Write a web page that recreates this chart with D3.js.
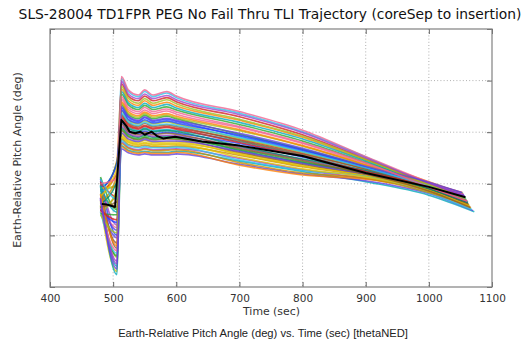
<!DOCTYPE html>
<html>
<head>
<meta charset="utf-8">
<script src="https://cdn.jsdelivr.net/npm/d3@7"></script>
<style>
  body { margin: 0; background: #fff; }
  svg { display: block; }
</style>
</head>
<body>
<svg id="chart" width="523" height="346"></svg>
<script>
// Shared sample times of the dispersed runs (sec); each run also has its own end time.
const knotTimes = [480, 506, 513, 524, 540, 550, 563, 585, 600, 700, 800, 900, 1000];

// Monte Carlo runs: pitch angle (deg) at knotTimes, followed by the value at the run's end time.
const runs = [
  [21.0, 10.0, 31.8, 30.4, 29.7, 30.2, 29.7, 30.0, 29.8, 27.8, 25.2, 22.4, 19.8, 17.7],
  [19.8, 4.0, 27.4, 26.5, 26.1, 26.3, 26.1, 26.1, 26.3, 24.4, 22.4, 20.4, 17.8, 14.6],
  [21.3, 15.0, 35.3, 33.4, 32.6, 33.3, 32.6, 33.1, 32.6, 29.6, 26.7, 23.3, 18.8, 16.0],
  [15.8, 3.0, 29.3, 28.2, 27.7, 28.0, 27.7, 27.8, 27.8, 25.9, 23.6, 21.8, 19.4, 16.9],
  [17.7, 24.6, 38.4, 36.1, 35.2, 36.1, 35.2, 35.8, 35.1, 32.3, 29.0, 24.6, 20.4, 18.1],
  [18.5, 22.0, 33.1, 31.5, 30.8, 31.3, 30.8, 31.1, 30.8, 28.6, 25.9, 22.9, 20.1, 18.3],
  [20.6, 12.0, 28.1, 27.1, 26.6, 26.9, 26.6, 26.7, 26.8, 24.9, 22.7, 21.0, 19.0, 16.2],
  [20.2, 7.5, 30.3, 29.1, 28.5, 28.9, 28.5, 28.7, 28.6, 26.1, 23.8, 21.7, 18.8, 16.0],
  [18.6, 20.0, 40.4, 37.9, 36.9, 37.9, 36.9, 37.6, 36.7, 33.7, 30.1, 25.2, 20.0, 17.5],
  [16.6, 5.8, 34.1, 32.3, 31.6, 32.2, 31.6, 32.0, 31.6, 28.8, 26.1, 22.9, 18.7, 15.8],
  [17.0, 9.5, 26.8, 26.0, 25.6, 25.8, 25.6, 25.6, 25.8, 23.8, 21.9, 20.6, 18.1, 14.8],
  [16.3, 11.5, 36.4, 34.4, 33.6, 34.3, 33.6, 34.1, 33.5, 30.9, 27.8, 23.9, 20.0, 17.5],
  [18.8, 24.2, 30.9, 29.6, 29.0, 29.4, 29.0, 29.2, 29.1, 26.5, 24.1, 22.0, 19.2, 16.6],
  [18.2, 15.5, 28.7, 27.6, 27.2, 27.5, 27.2, 27.2, 27.3, 25.5, 23.3, 21.5, 19.1, 16.7],
  [19.0, 23.8, 34.7, 32.9, 32.1, 32.8, 32.1, 32.5, 32.1, 29.2, 26.4, 23.1, 19.2, 16.4],
  [19.5, 2.4, 32.4, 30.9, 30.3, 30.8, 30.3, 30.5, 30.3, 28.2, 25.5, 22.6, 20.0, 18.1],
  [15.6, 6.0, 37.4, 35.3, 34.4, 35.2, 34.4, 34.9, 34.3, 31.5, 28.3, 24.2, 20.1, 17.9],
  [19.2, 19.5, 29.7, 28.5, 28.0, 28.4, 28.0, 28.1, 28.1, 25.7, 23.4, 21.6, 18.5, 15.2],
  [15.2, 18.0, 27.2, 26.3, 25.9, 26.1, 25.9, 25.9, 26.1, 23.6, 21.7, 20.9, 18.6, 15.4],
  [20.4, 17.5, 39.4, 37.0, 36.1, 37.0, 36.1, 36.7, 35.9, 33.0, 29.5, 24.8, 19.9, 17.3],
  [17.3, 5.0, 31.2, 29.8, 29.2, 29.7, 29.2, 29.4, 29.3, 27.1, 24.7, 22.3, 19.9, 17.9],
  [17.9, 8.5, 33.4, 31.8, 31.1, 31.7, 31.1, 31.4, 31.1, 28.4, 25.7, 22.8, 19.1, 16.2],
  [14.6, 6.5, 28.4, 27.4, 27.0, 27.2, 27.0, 27.0, 27.1, 24.6, 22.6, 21.4, 18.2, 15.0],
  [14.4, 19.0, 35.6, 33.6, 32.9, 33.6, 32.9, 33.3, 32.8, 30.3, 27.3, 23.6, 19.5, 16.9],
  [16.8, 11.0, 29.9, 28.7, 28.2, 28.6, 28.2, 28.3, 28.3, 26.3, 24.0, 21.9, 19.6, 17.5],
  [15.3, 7.0, 40.8, 38.2, 37.2, 38.2, 37.2, 37.9, 37.0, 34.0, 30.4, 25.3, 20.3, 17.9],
  [16.1, 20.5, 32.2, 30.7, 30.1, 30.6, 30.1, 30.3, 30.1, 27.3, 24.8, 22.5, 19.0, 16.4],
  [16.4, 21.5, 27.8, 26.9, 26.4, 26.7, 26.4, 26.5, 26.6, 24.1, 22.1, 21.1, 18.3, 15.8],
  [15.0, 12.5, 34.3, 32.5, 31.8, 32.4, 31.8, 32.2, 31.8, 29.4, 26.6, 23.2, 19.9, 17.7],
  [19.6, 14.5, 37.9, 35.7, 34.8, 35.6, 34.8, 35.4, 34.7, 31.9, 28.7, 24.4, 19.6, 16.9],
  [14.2, 14.0, 30.6, 29.3, 28.7, 29.1, 28.7, 28.9, 28.8, 26.7, 24.3, 22.1, 19.5, 17.3],
  [17.6, 23.0, 29.0, 28.0, 27.5, 27.8, 27.5, 27.6, 27.6, 25.1, 22.9, 21.3, 18.7, 15.6],
  [18.0, 8.0, 35.9, 34.0, 33.2, 33.9, 33.2, 33.6, 33.1, 30.5, 27.4, 23.7, 19.8, 17.3],
  [14.9, 13.0, 32.8, 31.2, 30.6, 31.1, 30.6, 30.9, 30.6, 28.0, 25.4, 22.4, 19.4, 16.7],
  [16.9, 4.5, 39.9, 37.4, 36.5, 37.4, 36.5, 37.1, 36.3, 33.4, 29.9, 25.0, 20.1, 17.7],
  [15.5, 16.5, 31.6, 30.1, 29.5, 30.0, 29.5, 29.8, 29.6, 26.9, 24.5, 21.9, 18.6, 15.4],
  [20.9, 17.0, 33.7, 32.0, 31.3, 31.9, 31.3, 31.6, 31.3, 29.0, 26.2, 23.1, 19.6, 17.1],
  [14.0, 10.5, 38.9, 36.6, 35.6, 36.5, 35.6, 36.3, 35.5, 32.5, 29.2, 24.7, 19.8, 17.1],
  [17.2, 3.5, 34.9, 33.1, 32.3, 33.0, 32.3, 32.7, 32.3, 29.8, 26.9, 23.4, 20.3, 18.3],
  [20.0, 21.0, 36.9, 34.8, 34.0, 34.8, 34.0, 34.5, 33.9, 31.1, 28.0, 24.1, 19.4, 16.6]
];

// End time (sec) of each run, same order as runs.
const runEndTimes = [
  1056, 1072, 1063, 1059, 1054, 1053, 1062, 1063, 1057, 1064,
  1070, 1057, 1061, 1060, 1061, 1054, 1055, 1067, 1066, 1057,
  1055, 1062, 1068, 1059, 1057, 1055, 1062, 1064, 1056, 1059,
  1058, 1065, 1057, 1060, 1056, 1066, 1059, 1058, 1052, 1061
];

// Nominal (undispersed) trajectory.
const nominalTimes  = [482, 490, 503, 513, 521, 526, 535, 543, 550, 561, 569, 579, 598, 640, 700, 800, 900, 1000, 1058];
const nominalValues = [16.1, 16.0, 15.5, 32.4, 31.2, 30.1, 29.8, 30.1, 29.5, 30.1, 29.3, 28.8, 29.1, 28.2, 27.4, 25.4, 22.1, 19.4, 17.4];

const xTicks = [400, 500, 600, 700, 800, 900, 1000, 1100];
const yTicks = [0, 10, 20, 30, 40, 50];

const runPalette = ['#2040ff', '#00a8b8', '#28a828', '#e0c000', '#ff8000', '#d42020',
                    '#a040c8', '#8a5a30', '#30c0e8', '#a0c020', '#6040e0', '#f06090',
                    '#008868', '#c88a00'];

const titleText   = 'SLS-28004 TD1FPR PEG No Fail Thru TLI Trajectory (coreSep to insertion)';
const xLabelText  = 'Time (sec)';
const yLabelText  = 'Earth-Relative Pitch Angle (deg)';
const captionText = 'Earth-Relative Pitch Angle (deg) vs. Time (sec) [thetaNED]';

(function draw() {
  const svg = d3.select('#chart');
  const plotL = 50, plotR = 492, plotT = 29, plotB = 287;

  const x = d3.scaleLinear().domain([400, 1100]).range([plotL, plotR]);
  const y = d3.scaleLinear().domain([0, 50]).range([plotB, plotT]);

  // Dotted grid
  const grid = svg.append('g').attr('stroke', '#9a9a9a').attr('stroke-width', 0.8)
    .attr('stroke-dasharray', '1,2.2');
  grid.selectAll('line.gx').data(xTicks.slice(1, -1)).join('line').attr('class', 'gx')
    .attr('x1', d => x(d)).attr('x2', d => x(d)).attr('y1', plotT).attr('y2', plotB);
  grid.selectAll('line.gy').data(yTicks.slice(1, -1)).join('line').attr('class', 'gy')
    .attr('x1', plotL).attr('x2', plotR).attr('y1', d => y(d)).attr('y2', d => y(d));

  // Clip for data
  svg.append('clipPath').attr('id', 'plotClip').append('rect')
    .attr('x', plotL).attr('y', plotT).attr('width', plotR - plotL).attr('height', plotB - plotT);

  const runLine = d3.line().x(d => x(d[0])).y(d => y(d[1])).curve(d3.curveMonotoneX);
  const nomLine = d3.line().x(d => x(d[0])).y(d => y(d[1]));
  const dataG = svg.append('g').attr('clip-path', 'url(#plotClip)');

  dataG.selectAll('path.run').data(runs).join('path')
    .attr('class', 'run')
    .attr('fill', 'none')
    .attr('stroke', (d, i) => runPalette[i % runPalette.length])
    .attr('stroke-width', 1.6)
    .attr('stroke-opacity', 0.78)
    .attr('stroke-linejoin', 'round')
    .attr('d', (d, i) => {
      const pts = knotTimes.map((t, j) => [t, d[j]]);
      pts.push([runEndTimes[i], d[knotTimes.length]]);
      return runLine(pts);
    });

  dataG.append('path')
    .attr('fill', 'none')
    .attr('stroke', '#000')
    .attr('stroke-width', 2)
    .attr('stroke-linejoin', 'round')
    .attr('d', nomLine(nominalTimes.map((t, i) => [t, nominalValues[i]])));

  // Axes with inward ticks on all four sides
  const tickLen = 5;
  const xb = d3.axisBottom(x).tickValues(xTicks).tickSizeInner(-tickLen).tickSizeOuter(0)
    .tickPadding(8).tickFormat(d3.format('d'));
  const xt = d3.axisTop(x).tickValues(xTicks).tickSizeInner(-tickLen).tickSizeOuter(0).tickFormat('');
  const yl = d3.axisLeft(y).tickValues(yTicks).tickSizeInner(-tickLen).tickSizeOuter(0).tickFormat('');
  const yr = d3.axisRight(y).tickValues(yTicks).tickSizeInner(-tickLen).tickSizeOuter(0).tickFormat('');

  const gxb = svg.append('g').attr('transform', `translate(0,${plotB})`).call(xb);
  svg.append('g').attr('transform', `translate(0,${plotT})`).call(xt);
  svg.append('g').attr('transform', `translate(${plotL},0)`).call(yl);
  svg.append('g').attr('transform', `translate(${plotR},0)`).call(yr);
  svg.selectAll('.domain').remove();
  svg.selectAll('.tick line').attr('stroke', '#555').attr('stroke-width', 0.9);
  gxb.selectAll('.tick text')
    .attr('font-family', 'DejaVu Sans, sans-serif').attr('font-size', 10.5)
    .attr('fill', '#333');

  // Frame
  svg.append('rect').attr('x', plotL).attr('y', plotT)
    .attr('width', plotR - plotL).attr('height', plotB - plotT)
    .attr('fill', 'none').attr('stroke', '#808080').attr('stroke-width', 1.2);

  // Texts, sized to their measured widths
  function fitWidth(sel, width) {
    const w = sel.node().getComputedTextLength();
    const fs = parseFloat(sel.attr('font-size'));
    sel.attr('font-size', fs * width / w);
  }

  const title = svg.append('text').text(titleText)
    .attr('x', 270).attr('y', 19).attr('text-anchor', 'middle')
    .attr('font-family', 'DejaVu Sans, sans-serif').attr('font-size', 12).attr('fill', '#111');
  fitWidth(title, 503);

  const xLabel = svg.append('text').text(xLabelText)
    .attr('x', 271.5).attr('y', 314.5).attr('text-anchor', 'middle')
    .attr('font-family', 'DejaVu Sans, sans-serif').attr('font-size', 10.5).attr('fill', '#333');
  fitWidth(xLabel, 57);

  const yLabel = svg.append('text').text(yLabelText)
    .attr('transform', 'translate(21,160) rotate(-90)').attr('text-anchor', 'middle')
    .attr('font-family', 'DejaVu Sans, sans-serif').attr('font-size', 10.5).attr('fill', '#333');
  fitWidth(yLabel, 176);

  const caption = svg.append('text').text(captionText)
    .attr('x', 263).attr('y', 336.5).attr('text-anchor', 'middle')
    .attr('font-family', 'Liberation Sans, Arial, sans-serif').attr('font-size', 9.5).attr('fill', '#222');
  fitWidth(caption, 290);
})();
</script>
</body>
</html>
